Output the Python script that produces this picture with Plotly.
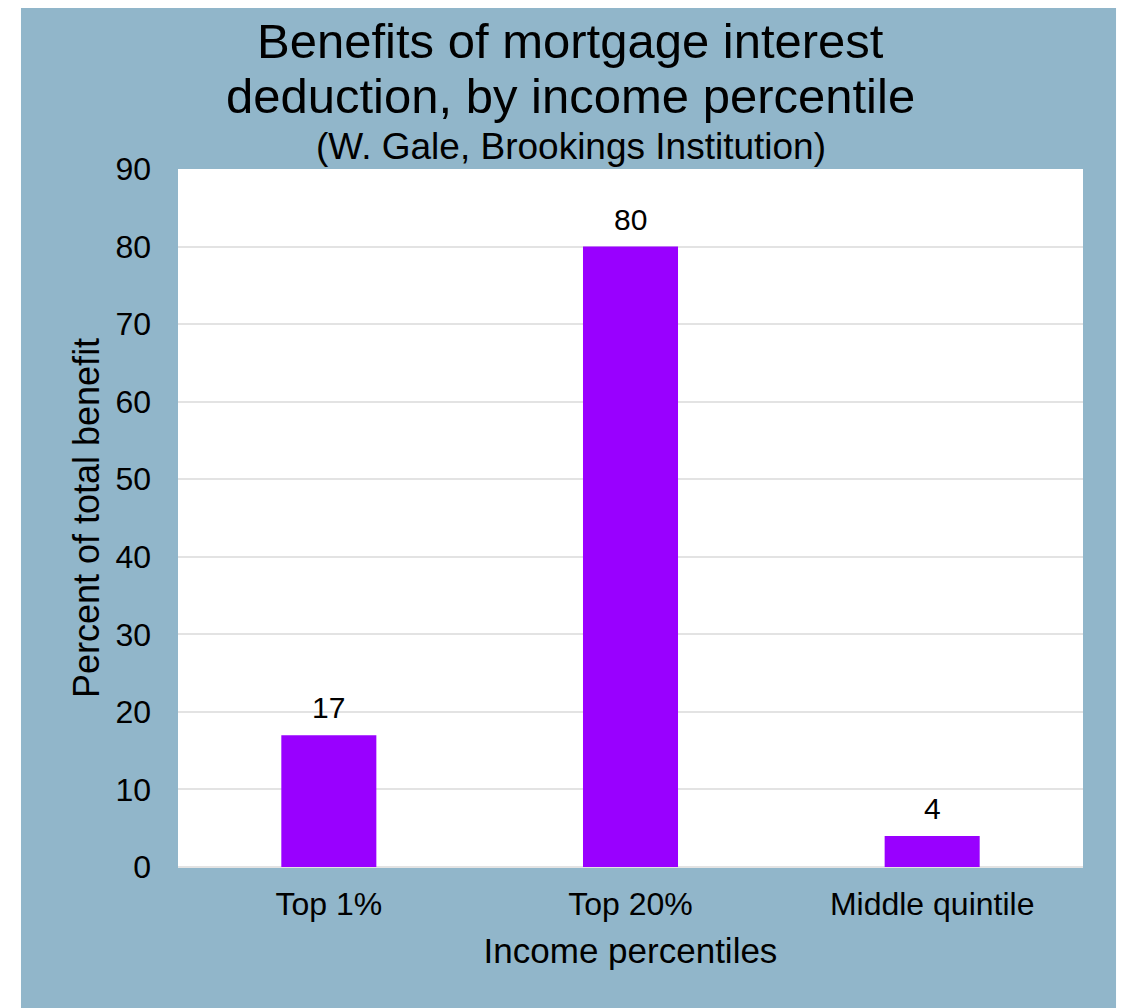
import plotly.graph_objects as go

categories = ["Top 1%", "Top 20%", "Middle quintile"]
values = [17, 80, 4]
y_ticks = [0, 10, 20, 30, 40, 50, 60, 70, 80, 90]

title_line1 = "Benefits of mortgage interest"
title_line2 = "deduction, by income percentile"
subtitle = "(W. Gale, Brookings Institution)"
x_title = "Income percentiles"
y_title = "Percent of total benefit"

FONT = "Arial, 'Liberation Sans', sans-serif"
BLUE = "#91B6CA"
PURPLE = "#9900FF"
GRID = "#E3E3E3"

fig = go.Figure()
fig.add_trace(go.Bar(
    x=categories, y=values,
    marker=dict(color=PURPLE, line=dict(width=0)),
    hoverinfo="x+y",
))

annotations = []
for c, v in zip(categories, values):
    annotations.append(dict(
        x=c, y=v, xref="x", yref="y", text=str(v), showarrow=False,
        yanchor="bottom", yshift=9, font=dict(family=FONT, size=30, color="black"),
    ))

annotations += [
    dict(text=title_line1, xref="paper", yref="paper", x=0.434, y=1.183,
         showarrow=False, xanchor="center", yanchor="middle",
         font=dict(family=FONT, size=49, color="black")),
    dict(text=title_line2, xref="paper", yref="paper", x=0.434, y=1.104,
         showarrow=False, xanchor="center", yanchor="middle",
         font=dict(family=FONT, size=49, color="black")),
    dict(text=subtitle, xref="paper", yref="paper", x=0.434, y=1.032,
         showarrow=False, xanchor="center", yanchor="middle",
         font=dict(family=FONT, size=37, color="black")),
]

shapes = [
    dict(type="rect", xref="paper", yref="paper", x0=-0.1735, x1=1.0365,
         y0=-0.21, y1=1.2335, fillcolor=BLUE, line=dict(width=0), layer="below"),
    dict(type="rect", xref="paper", yref="paper", x0=0, x1=1, y0=0, y1=1,
         fillcolor="white", line=dict(width=0), layer="below"),
]

fig.update_layout(
    template="none",
    width=1112, height=1000,
    margin=dict(l=170, r=37, t=161, b=141, autoexpand=False),
    paper_bgcolor="white", plot_bgcolor="white",
    font=dict(family=FONT, color="black"),
    bargap=0.685,
    showlegend=False,
    annotations=annotations,
    shapes=shapes,
)
fig.update_xaxes(
    automargin=False, showgrid=False, showline=False, zeroline=False, ticks="",
    tickfont=dict(family=FONT, size=32, color="black"), ticklabelstandoff=15,
    title=dict(text=x_title, font=dict(family=FONT, size=35, color="black"), standoff=17),
)
fig.update_yaxes(
    automargin=False, range=[0, 90], tickvals=y_ticks, ticks="",
    showgrid=True, gridcolor=GRID, gridwidth=2, zeroline=True, zerolinecolor=GRID,
    zerolinewidth=2, showline=False,
    tickfont=dict(family=FONT, size=32, color="black"), ticklabelstandoff=26,
    title=dict(text=y_title, font=dict(family=FONT, size=36, color="black"), standoff=4),
)

fig.write_html("out.html")
